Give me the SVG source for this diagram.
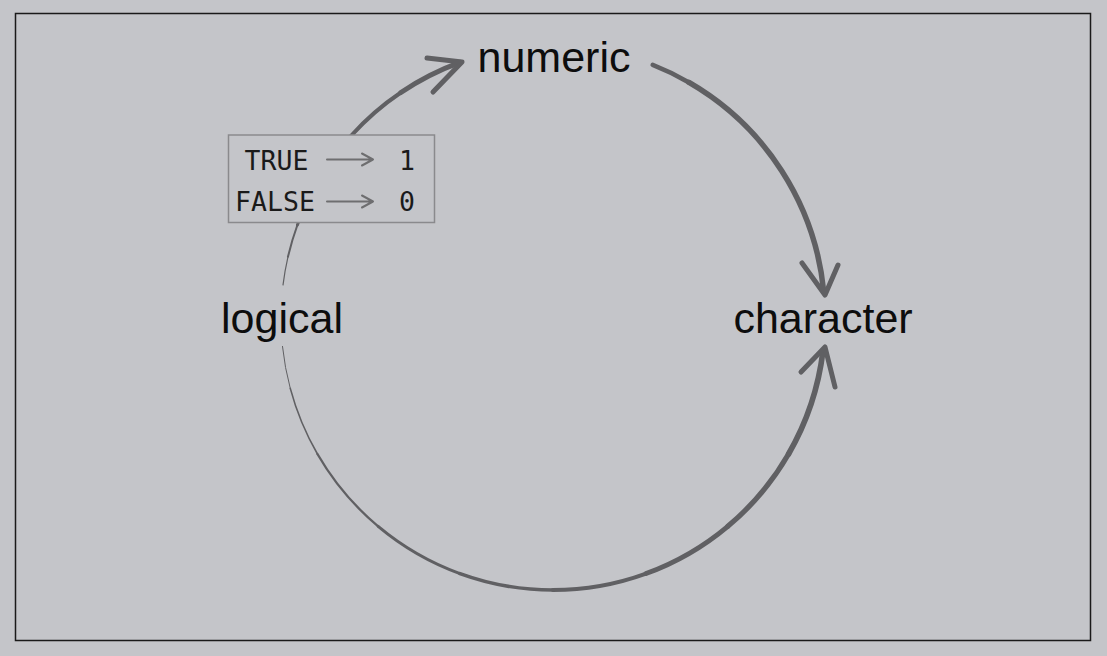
<svg xmlns="http://www.w3.org/2000/svg" width="1107" height="656" viewBox="0 0 1107 656">
<style>
.arc{fill:none;stroke:#606063;stroke-linecap:round}
.head{fill:none;stroke:#606063;stroke-width:5;stroke-linecap:round;stroke-linejoin:round}
.lbl{font-family:"Liberation Sans",Arial,sans-serif;font-size:43px;fill:#0d0d0d;text-anchor:middle}
.mono{font-family:"DejaVu Sans Mono","Liberation Mono",monospace;font-size:26.5px;fill:#1a1a1a;text-anchor:middle}
.small{fill:none;stroke:#6e6e70;stroke-width:2;stroke-linecap:round;stroke-linejoin:round}
</style>
<rect x="0" y="0" width="1107" height="656" fill="#c4c5c9"/>
<rect x="15.5" y="13.5" width="1075" height="627" fill="none" stroke="#1a1a1a" stroke-width="1.5"/>
<g id="connectors">
  <g id="logical-to-numeric">
    <path class="arc" stroke-width="1.2" d="M283.03 284.85 A272 272 0 0 1 287.97 256.81"/>
    <path class="arc" stroke-width="2" d="M287.97 256.81 A272 272 0 0 1 297.40 224.97"/>
    <path class="arc" stroke-width="3" d="M297.40 224.97 A272 272 0 0 1 350.87 136.00"/>
    <path class="arc" stroke-width="4" d="M350.87 136.00 A272 272 0 0 1 400.90 92.50"/>
    <path class="arc" stroke-width="5" d="M400.90 92.50 A272 272 0 0 1 459.97 62.40"/>
    <polyline class="head" points="427,58 462,62 433,92"/>
  </g>
  <g id="numeric-to-character">
    <path class="arc" stroke-width="4.5" d="M652.69 64.93 A272 272 0 0 1 689 82.44"/>
    <path class="arc" stroke-width="5.5" d="M689 82.44 A272 272 0 0 1 823.7 291.5"/>
    <polyline class="head" points="802,263 825,295 838,265"/>
  </g>
  <g id="logical-to-character">
    <path class="arc" stroke-width="1" d="M282.49 346.43 A272 272 0 0 0 290.27 388.40"/>
    <path class="arc" stroke-width="1.6" d="M290.27 388.40 A272 272 0 0 0 317.44 454"/>
    <path class="arc" stroke-width="2.3" d="M317.44 454 A272 272 0 0 0 378.16 526.36"/>
    <path class="arc" stroke-width="3" d="M378.16 526.36 A272 272 0 0 0 459.97 573.60"/>
    <path class="arc" stroke-width="3.6" d="M459.97 573.60 A272 272 0 0 0 553 590"/>
    <path class="arc" stroke-width="4.2" d="M553 590 A272 272 0 0 0 646.03 573.60"/>
    <path class="arc" stroke-width="4.8" d="M646.03 573.60 A272 272 0 0 0 727.84 526.36"/>
    <path class="arc" stroke-width="5.2" d="M727.84 526.36 A272 272 0 0 0 788.56 454"/>
    <path class="arc" stroke-width="5.6" d="M788.56 454 A272 272 0 0 0 822.97 351.15"/>
    <polyline class="head" points="801,372 825,347 835,387"/>
  </g>
</g>
<g id="node-numeric">
  <text class="lbl" x="554" y="72">numeric</text>
</g>
<g id="node-character">
  <text class="lbl" x="823" y="333">character</text>
</g>
<g id="node-logical">
  <text class="lbl" x="282" y="333">logical</text>
</g>
<g id="node-conversion">
  <rect x="228.5" y="135" width="206" height="87.5" fill="#c4c5c9" stroke="#8a8a8d" stroke-width="1.5"/>
  <text class="mono" x="276.5" y="169.5">TRUE</text>
  <text class="mono" x="275" y="211">FALSE</text>
  <text class="mono" x="407" y="169.5">1</text>
  <text class="mono" x="407" y="211">0</text>
  <path class="small" d="M327 159.5 H373 M362 153.5 L373 159.5 L362 165.5"/>
  <path class="small" d="M327 201.5 H373 M362 195.5 L373 201.5 L362 207.5"/>
</g>
</svg>
